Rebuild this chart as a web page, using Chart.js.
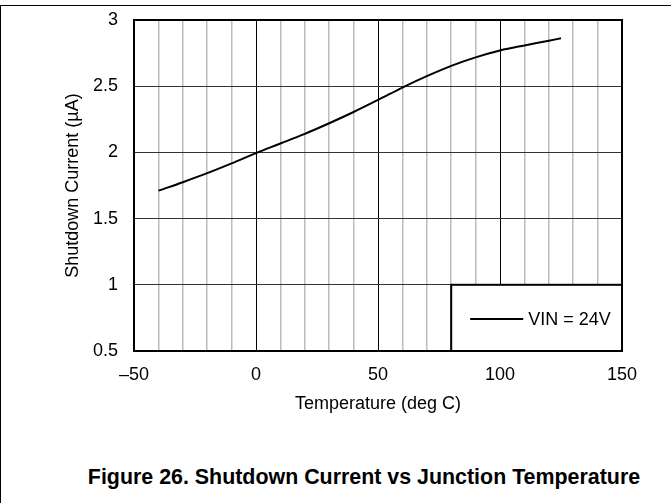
<!DOCTYPE html>
<html lang="en">
<head>
    <meta charset="UTF-8">
    <title>Shutdown Current vs Junction Temperature</title>
    <style>
        body {
            margin: 0;
            padding: 0;
            background-color: white;
            font-family: "Liberation Sans", Arial, sans-serif;
        }
        #page {
            position: relative;
            width: 671px;
            height: 503px;
            overflow: hidden;
        }
        #frame {
            position: absolute;
            left: 0;
            top: 5px;
            width: 671px;
            height: 498px;
            border-top: 1px solid black;
            border-left: 1px solid black;
        }
        canvas {
            position: absolute;
            left: 0;
            top: 0;
        }
        #caption {
            position: absolute;
            left: 0;
            width: 728px;
            top: 465px;
            text-align: center;
            font-weight: bold;
            font-size: 21.4px;
        }
    </style>
</head>
<body>
    <div id="page">
        <div id="frame"></div>
        <canvas id="myChart" width="671" height="420"></canvas>
        <div id="caption">Figure 26. Shutdown Current vs Junction Temperature</div>
    </div>
    <script src="https://cdn.jsdelivr.net/npm/chart.js"></script>
    <script>
        // data
        const temps = [-40, -30, -20, -10, 0, 10, 20, 30, 40, 50, 60, 70, 80, 90, 100, 110, 120, 125];
        const current24V = [1.711, 1.775, 1.843, 1.917, 1.995, 2.067, 2.140, 2.220, 2.305, 2.396, 2.490, 2.576, 2.654, 2.718, 2.770, 2.808, 2.843, 2.862];
        const seriesLabel = 'VIN = 24V';
        const xTickValues = [-50, 0, 50, 100, 150];
        const xTickLabels = ['\u201350', '0', '50', '100', '150'];
        const yTickValues = [0.5, 1, 1.5, 2, 2.5, 3];
        const yTickLabels = ['0.5', '1', '1.5', '2', '2.5', '3'];

        const font = { family: '"Liberation Sans", Arial, sans-serif', size: 18 };

        // thick outline round the plot area
        const framePlugin = {
            id: 'plotFrame',
            afterDraw(chart) {
                const { ctx, chartArea: a } = chart;
                ctx.save();
                ctx.strokeStyle = 'black';
                ctx.lineWidth = 2;
                ctx.strokeRect(a.left, a.top, a.right - a.left, a.bottom - a.top);
                ctx.restore();
            }
        };

        // boxed legend in the lower right corner of the plot
        const legendBox = {
            id: 'legendBox',
            afterDraw(chart) {
                const { ctx, scales } = chart;
                const x0 = scales.x.getPixelForValue(80);
                const x1 = scales.x.getPixelForValue(150);
                const y0 = scales.y.getPixelForValue(1.0);
                const y1 = scales.y.getPixelForValue(0.5);
                ctx.save();
                ctx.fillStyle = 'white';
                ctx.fillRect(x0, y0, x1 - x0, y1 - y0);
                ctx.strokeStyle = 'black';
                ctx.lineWidth = 2;
                ctx.strokeRect(x0, y0, x1 - x0, y1 - y0);
                const ym = (y0 + y1) / 2 + 1;
                ctx.beginPath();
                ctx.moveTo(x0 + 19, ym);
                ctx.lineTo(x0 + 72, ym);
                ctx.stroke();
                ctx.fillStyle = 'black';
                ctx.font = font.size + 'px ' + font.family;
                ctx.textBaseline = 'middle';
                ctx.fillText(chart.data.datasets[0].label, x0 + 77, ym + 1);
                ctx.restore();
            }
        };

        new Chart(document.getElementById('myChart'), {
            type: 'line',
            data: {
                datasets: [{
                    label: seriesLabel,
                    data: temps.map((t, i) => ({ x: t, y: current24V[i] })),
                    borderColor: 'black',
                    borderWidth: 2,
                    pointRadius: 0,
                    cubicInterpolationMode: 'monotone',
                    fill: false
                }]
            },
            options: {
                responsive: false,
                animation: false,
                layout: { padding: { top: 20, right: 49, left: 0, bottom: 0 } },
                plugins: {
                    legend: { display: false },
                    tooltip: { enabled: false }
                },
                scales: {
                    x: {
                        type: 'linear',
                        min: -50,
                        max: 150,
                        border: { display: false },
                        grid: {
                            drawTicks: false,
                            color: c => (c.tick.value % 50 === 0 ? '#000000' : '#bbbbbb'),
                            lineWidth: c => (c.tick.value % 50 === 0 ? 1 : 1.5)
                        },
                        ticks: {
                            stepSize: 10,
                            autoSkip: false,
                            maxRotation: 0,
                            padding: 13,
                            color: 'black',
                            font: font,
                            callback: v => {
                                const i = xTickValues.indexOf(v);
                                return i >= 0 ? xTickLabels[i] : '';
                            }
                        },
                        title: {
                            display: true,
                            text: 'Temperature (deg C)',
                            color: 'black',
                            font: font,
                            padding: { top: 4, bottom: 5 }
                        },
                        afterFit: s => { s.height = 69; }
                    },
                    y: {
                        min: 0.5,
                        max: 3,
                        border: { display: false },
                        grid: {
                            drawTicks: false,
                            color: '#333333',
                            lineWidth: 1
                        },
                        ticks: {
                            stepSize: 0.5,
                            padding: 16,
                            color: 'black',
                            font: font,
                            callback: v => {
                                const i = yTickValues.indexOf(v);
                                return i >= 0 ? yTickLabels[i] : '';
                            }
                        },
                        title: {
                            display: true,
                            text: 'Shutdown Current (\u00b5A)',
                            color: 'black',
                            font: font,
                            padding: { top: 62, bottom: 0 }
                        },
                        afterFit: s => {
                            s.width = 134;
                            s.paddingTop = 0;
                            s.paddingBottom = 0;
                        }
                    }
                }
            },
            plugins: [framePlugin, legendBox]
        });
    </script>
</body>
</html>
